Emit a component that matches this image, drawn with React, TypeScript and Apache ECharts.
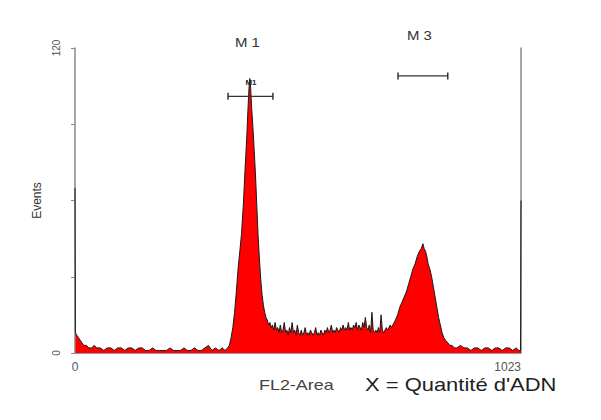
import React, { useEffect, useRef } from "react";
import * as echarts from "echarts";

// FL2-Area channel and event counts
const channels = [
  0, 1, 4, 8, 12, 16, 20, 26, 32, 38, 44, 50, 58, 66, 74, 82, 90, 98, 106, 114,
  122, 130, 138, 146, 154, 162, 170, 178, 186, 194, 202, 210, 218, 226, 234, 242,
  250, 258, 266, 274, 282, 290, 298, 306, 314, 322, 330, 338, 344, 350,
  354, 358, 362, 366, 370, 374, 378, 382, 386, 390, 394, 397, 399, 401, 403, 405,
  408, 411, 414, 417, 420, 423, 426, 429, 432, 435, 438, 441, 444, 447, 450, 453,
  456, 459, 462, 465, 468,
  471, 474, 477, 480, 483, 486, 489, 492, 495, 498, 501, 504, 507, 510, 513, 516,
  519, 522, 525, 528, 531, 534, 537, 540, 543, 546, 549, 552, 555, 558, 561, 564,
  567, 570, 573, 576, 579, 582, 585, 588, 591, 594, 597, 600, 603, 606, 609, 612,
  615, 618, 621, 624, 627, 630, 633, 636, 639, 642, 645, 648, 651, 654, 657, 660,
  663, 666, 669, 672, 675, 678, 681, 684, 687, 690, 693, 696, 699, 702, 705, 708,
  711, 714, 717, 720, 723, 726, 729, 732, 735,
  740, 745, 750, 755, 760, 765, 770, 775, 780, 785, 790, 794, 798, 801, 804, 807,
  810, 814, 818, 822, 826, 830, 834, 838, 842, 846, 850, 855, 860, 865, 870,
  876, 884, 892, 900, 908, 916, 924, 932, 940, 948, 956, 964, 972, 980, 988, 996,
  1004, 1012, 1018, 1022, 1023,
];
const counts = [
  65, 8, 7, 6, 5, 4, 3, 3, 2, 2, 3, 2, 2, 1, 2, 2, 1, 2, 2, 1,
  2, 2, 1, 2, 2, 1, 1, 2, 1, 1, 1, 1, 2, 1, 1, 1,
  2, 1, 1, 2, 1, 1, 2, 3, 1, 2, 1, 2, 1, 2,
  3, 6, 10, 16, 24, 33, 40, 47, 58, 72, 85, 97, 104, 108, 104, 97,
  89, 80, 70, 58, 46, 37, 29, 23, 19, 16, 14, 13, 11, 12, 10, 11,
  9, 12, 9, 10, 8,
  11, 8, 9, 12, 8, 9, 7, 10, 8, 12, 8, 9, 7, 11, 8, 7,
  9, 7, 8, 10, 7, 8, 7, 9, 8, 7, 8, 10, 7, 8, 7, 9,
  8, 7, 9, 8, 10, 8, 9, 11, 8, 9, 8, 10, 9, 8, 10, 9,
  11, 9, 10, 9, 12, 9, 10, 9, 11, 10, 12, 9, 11, 10, 9, 12,
  10, 14, 10, 9, 11, 8, 16, 9, 8, 9, 8, 10, 8, 15, 9, 8,
  9, 10, 9, 10, 11, 10, 11, 12, 13,
  15, 18, 20, 22, 24, 27, 30, 33, 35, 38, 40, 41, 43, 41, 40, 38,
  35, 33, 30, 26, 22, 18, 14, 11, 8, 6, 5, 4, 3, 3, 2,
  2, 3, 2, 2, 1, 2, 2, 1, 2, 2, 1, 2, 2, 1, 2, 2,
  1, 2, 1, 1, 60,
];

// Gate markers: [start channel, end channel, level]
const m1Gate = [351, 454, 101];
const m3Gate = [741, 855, 109];

const xTicks = [0, 1023];
const yTicks = [0, 120];

export default function App() {
  const ref = useRef<HTMLDivElement>(null);
  useEffect(() => {
    if (!ref.current) return;
    const chart = echarts.init(ref.current, undefined, { renderer: "svg" });
    const font = "Liberation Sans, Arial, sans-serif";
    const gateSeries = (g: number[]) => ({
      type: "line",
      data: [
        [g[0], g[2]],
        [g[1], g[2]],
      ],
      symbol: "rect",
      symbolSize: [1.5, 7],
      showSymbol: true,
      itemStyle: { color: "#333" },
      lineStyle: { color: "#333", width: 1.3 },
      silent: true,
      z: 5,
    });
    const txt = (text: string, x: number, y: number, size: number, sx: number, fill: string, weight = "normal") => ({
      type: "text",
      x,
      y,
      scaleX: sx,
      z: 10,
      style: { text, font: `${weight} ${size}px ${font}`, fill, align: "left", verticalAlign: "middle" },
    });
    chart.setOption({
      animation: false,
      backgroundColor: "#ffffff",
      grid: { left: 75, right: 80, top: 48, bottom: 67 },
      xAxis: {
        type: "value",
        min: 0,
        max: 1023,
        interval: 1023,
        splitLine: { show: false },
        axisLine: { lineStyle: { color: "#999", width: 1 } },
        axisTick: { show: false },
        axisLabel: {
          color: "#555",
          fontSize: 12,
          fontFamily: font,
          margin: 8,
          alignMaxLabel: "right",
          formatter: (v: number) => (xTicks.includes(v) ? String(v) : ""),
        },
      },
      yAxis: [
        {
          type: "value",
          min: 0,
          max: 120,
          interval: 30,
          splitLine: { show: false },
          axisLine: { show: true, lineStyle: { color: "#888", width: 1.5 } },
          axisTick: { show: true, length: 4, lineStyle: { color: "#888" } },
          axisLabel: {
            rotate: 90,
            color: "#555",
            fontSize: 10,
            fontFamily: font,
            margin: 14,
            formatter: (v: number) => (yTicks.includes(v) ? String(v) : ""),
          },
          name: "Events",
          nameLocation: "middle",
          nameGap: 23,
          nameRotate: 90,
          nameTextStyle: { color: "#333", fontSize: 12, fontFamily: font },
        },
        {
          type: "value",
          position: "right",
          min: 0,
          max: 120,
          interval: 30,
          splitLine: { show: false },
          axisLine: { show: true, lineStyle: { color: "#888", width: 1.5 } },
          axisTick: { show: false },
          axisLabel: { show: false },
        },
      ],
      series: [
        {
          type: "line",
          data: channels.map((c, i) => [c, counts[i]]),
          showSymbol: false,
          symbol: "none",
          lineStyle: { color: "#1a1a1a", width: 1 },
          areaStyle: { color: "#ff0000", opacity: 1 },
          z: 3,
        },
        gateSeries(m1Gate),
        gateSeries(m3Gate),
      ],
      graphic: [
        txt("M 1", 235, 42, 13, 1.15, "#333"),
        txt("M 3", 407, 35, 13, 1.15, "#333"),
        {
          type: "text",
          x: 251,
          y: 82,
          z: 10,
          style: { text: "M1", font: `bold 8px ${font}`, fill: "#222", align: "center", verticalAlign: "middle" },
        },
        txt("FL2-Area", 259, 385, 14, 1.28, "#444"),
        txt("X = Quantité d'ADN", 365, 385, 18, 1.22, "#222"),
      ],
    });
    return () => chart.dispose();
  }, []);
  return <div ref={ref} style={{ width: 601, height: 420, position: "absolute", left: 0, top: 0 }} />;
}
